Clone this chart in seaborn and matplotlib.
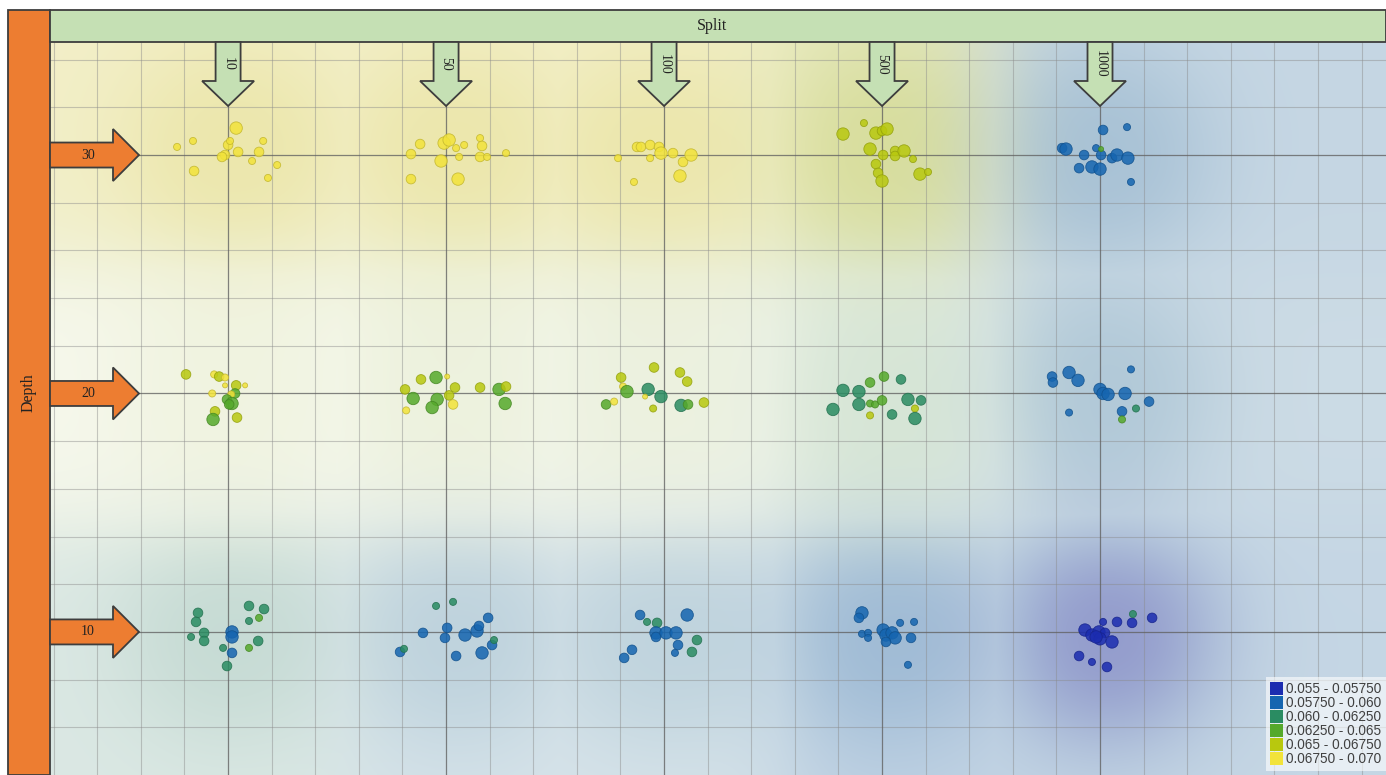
import numpy as np
import pandas as pd
import matplotlib
matplotlib.use("Agg")
import matplotlib.pyplot as plt
from matplotlib.patches import Polygon, Rectangle, Patch
from matplotlib import font_manager
import seaborn as sns

# ---------------------------------------------------------------- data
split_labels = ["10", "50", "100", "500", "1000"]
depth_levels = [30, 20, 10]

bin_labels = ["0.055 - 0.05750", "0.05750 - 0.060", "0.060 - 0.06250",
              "0.06250 - 0.065", "0.065 - 0.06750", "0.06750 - 0.070"]
bin_colors = ["#1b2cb0", "#1565b0", "#2a8c62", "#55a92b", "#b8c80e", "#f2e33a"]

# Runs per (split, depth) cell:
# (split jitter, depth jitter, weight 1-4, value bin 0-5)
runs_s10_d30 = [(-0.234, 0.34, 2, 5), (-0.161, 0.59, 2, 5), (0.037, 1.13, 4, 5),
                (0.000, 0.42, 3, 5), (0.009, 0.59, 2, 5), (-0.014, 0.00, 3, 5),
                (-0.028, -0.08, 3, 5), (0.046, 0.13, 3, 5), (0.142, 0.13, 3, 5),
                (0.161, 0.59, 2, 5), (0.110, -0.25, 2, 5), (0.225, -0.42, 2, 5),
                (-0.156, -0.67, 3, 5), (0.183, -0.96, 2, 5)]
runs_s50_d30 = [(-0.161, 0.04, 3, 5), (-0.119, 0.46, 3, 5), (-0.009, 0.50, 4, 5),
                (0.014, 0.63, 4, 5), (0.046, 0.29, 2, 5), (0.083, 0.42, 2, 5),
                (0.156, 0.71, 2, 5), (0.165, 0.38, 3, 5), (-0.023, -0.25, 4, 5),
                (0.060, -0.08, 2, 5), (0.156, -0.08, 3, 5), (0.188, -0.08, 2, 5),
                (0.275, 0.08, 2, 5), (-0.161, -1.01, 3, 5), (0.055, -1.01, 4, 5)]
runs_s100_d30 = [(-0.211, -0.13, 2, 5), (-0.124, 0.34, 3, 5), (-0.106, 0.34, 3, 5),
                 (-0.064, 0.42, 3, 5), (-0.023, 0.34, 3, 5), (-0.014, 0.08, 4, 5),
                 (-0.064, -0.13, 2, 5), (0.041, 0.08, 3, 5), (0.087, -0.29, 3, 5),
                 (0.124, 0.00, 4, 5), (0.073, -0.88, 4, 5), (-0.138, -1.13, 2, 5)]
runs_s500_d30 = [(-0.179, 0.88, 4, 4), (-0.083, 1.34, 2, 4), (-0.028, 0.92, 4, 4),
                 (0.000, 1.01, 3, 4), (0.023, 1.09, 4, 4), (-0.055, 0.25, 4, 4),
                 (0.005, 0.00, 3, 4), (0.060, 0.17, 3, 4), (0.060, -0.04, 3, 4),
                 (0.101, 0.17, 4, 4), (0.142, -0.17, 2, 4), (-0.028, -0.38, 3, 4),
                 (-0.018, -0.75, 3, 4), (0.000, -1.09, 4, 4), (0.174, -0.80, 4, 4),
                 (0.211, -0.71, 2, 4)]
runs_s1000_d30 = [(-0.174, 0.29, 3, 1), (-0.156, 0.25, 4, 1), (0.014, 1.05, 3, 1),
                  (0.124, 1.17, 2, 1), (-0.073, 0.00, 3, 1), (-0.018, 0.29, 2, 1),
                  (0.005, 0.00, 3, 1), (0.055, -0.13, 3, 1), (0.078, 0.00, 4, 1),
                  (0.128, -0.13, 4, 1), (-0.096, -0.55, 3, 1), (-0.037, -0.50, 4, 1),
                  (0.000, -0.59, 4, 1), (0.142, -1.13, 2, 1), (0.005, 0.25, 1, 3)]

runs_s10_d20 = [(-0.193, 0.80, 3, 4), (-0.064, 0.80, 2, 5), (-0.041, 0.71, 3, 4),
                (-0.014, 0.67, 2, 5), (-0.014, 0.34, 1, 5), (0.037, 0.34, 3, 4),
                (0.078, 0.34, 1, 5), (-0.073, 0.00, 2, 5), (0.032, 0.00, 3, 3),
                (0.014, -0.04, 2, 5), (-0.005, -0.25, 3, 3), (0.018, -0.42, 4, 3),
                (0.005, -0.46, 3, 3), (-0.060, -0.75, 3, 4), (-0.069, -1.09, 4, 3),
                (0.041, -1.01, 3, 4)]
runs_s50_d20 = [(-0.188, 0.17, 3, 4), (-0.115, 0.59, 3, 4), (-0.046, 0.67, 4, 3),
                (0.005, 0.71, 1, 5), (0.041, 0.25, 3, 4), (-0.151, -0.21, 4, 3),
                (-0.041, -0.25, 4, 3), (0.014, -0.08, 3, 4), (0.032, -0.46, 3, 5),
                (-0.064, -0.59, 4, 3), (-0.183, -0.71, 2, 5), (0.156, 0.25, 3, 4),
                (0.243, 0.17, 4, 3), (0.275, 0.29, 3, 4), (0.271, -0.42, 4, 3)]
runs_s100_d20 = [(-0.197, 0.67, 3, 4), (-0.046, 1.09, 3, 4), (0.073, 0.88, 3, 4),
                 (0.106, 0.50, 3, 4), (-0.188, 0.29, 2, 5), (-0.170, 0.08, 4, 3),
                 (-0.073, 0.17, 4, 2), (-0.014, -0.13, 4, 2), (-0.087, -0.13, 1, 5),
                 (-0.266, -0.46, 3, 3), (-0.229, -0.34, 2, 5), (-0.050, -0.63, 2, 4),
                 (0.078, -0.50, 4, 2), (0.110, -0.46, 3, 3), (0.183, -0.38, 3, 4)]
runs_s500_d20 = [(-0.179, 0.13, 4, 2), (-0.106, 0.08, 4, 2), (-0.055, 0.46, 3, 3),
                 (0.009, 0.71, 3, 3), (0.087, 0.59, 3, 2), (-0.106, -0.46, 4, 2),
                 (-0.055, -0.42, 2, 3), (-0.032, -0.46, 2, 3), (0.000, -0.29, 3, 3),
                 (0.119, -0.25, 4, 2), (0.179, -0.29, 3, 2), (0.151, -0.63, 2, 4),
                 (-0.225, -0.67, 4, 2), (-0.055, -0.92, 2, 4), (0.046, -0.88, 3, 2),
                 (0.151, -1.05, 4, 2)]
runs_s1000_d20 = [(-0.220, 0.71, 3, 1), (-0.216, 0.46, 3, 1), (-0.142, 0.88, 4, 1),
                  (-0.101, 0.55, 4, 1), (0.142, 1.01, 2, 1), (0.000, 0.17, 4, 1),
                  (0.014, 0.00, 4, 1), (0.037, -0.04, 4, 1), (0.115, 0.00, 4, 1),
                  (0.225, -0.34, 3, 1), (-0.142, -0.80, 2, 1), (0.101, -0.75, 3, 1),
                  (0.101, -1.09, 2, 3), (0.165, -0.63, 2, 2)]

runs_s10_d10 = [(-0.138, 0.80, 3, 2), (-0.147, 0.42, 3, 2), (0.096, 1.09, 3, 2),
                (0.165, 0.96, 3, 2), (0.142, 0.59, 2, 3), (0.096, 0.46, 2, 2),
                (-0.110, -0.04, 3, 2), (-0.110, -0.38, 3, 2), (-0.170, -0.21, 2, 2),
                (0.018, 0.00, 4, 1), (0.018, -0.21, 4, 1), (0.138, -0.38, 3, 2),
                (-0.023, -0.67, 2, 2), (0.018, -0.88, 3, 1), (0.096, -0.67, 2, 3),
                (-0.005, -1.43, 3, 2)]
runs_s50_d10 = [(-0.046, 1.09, 2, 2), (0.032, 1.26, 2, 2), (-0.106, -0.04, 3, 1),
                (0.005, 0.17, 3, 1), (-0.005, -0.25, 3, 1), (0.087, -0.13, 4, 1),
                (0.142, 0.04, 4, 1), (0.151, 0.25, 3, 1), (0.193, 0.59, 3, 1),
                (-0.211, -0.84, 3, 1), (-0.193, -0.71, 2, 2), (0.046, -1.01, 3, 1),
                (0.165, -0.88, 4, 1), (0.211, -0.55, 3, 1), (0.220, -0.34, 2, 2)]
runs_s100_d10 = [(-0.110, 0.71, 3, 1), (-0.078, 0.42, 2, 2), (-0.032, 0.38, 3, 2),
                 (0.106, 0.71, 4, 1), (-0.037, -0.04, 4, 1), (-0.037, -0.21, 3, 1),
                 (0.009, -0.04, 4, 1), (0.055, -0.04, 4, 1), (0.064, -0.55, 3, 1),
                 (0.151, -0.34, 3, 2), (0.128, -0.84, 3, 2), (0.050, -0.88, 2, 1),
                 (-0.147, -0.75, 3, 1), (-0.183, -1.09, 3, 1)]
runs_s500_d10 = [(-0.092, 0.80, 4, 1), (-0.106, 0.59, 3, 1), (-0.092, -0.08, 2, 1),
                 (-0.064, -0.04, 2, 1), (-0.064, -0.25, 2, 1), (0.005, 0.08, 4, 1),
                 (0.018, -0.13, 4, 1), (0.046, -0.04, 4, 1), (0.060, -0.25, 4, 1),
                 (0.083, 0.38, 2, 1), (0.147, 0.42, 2, 1), (0.133, -0.25, 3, 1),
                 (0.119, -1.38, 2, 1), (0.018, -0.42, 3, 1)]
runs_s1000_d10 = [(-0.069, 0.08, 4, 0), (-0.037, -0.13, 4, 0), (-0.005, 0.00, 4, 0),
                  (0.023, -0.04, 3, 0), (0.000, -0.29, 4, 0), (0.055, -0.42, 4, 0),
                  (0.014, 0.42, 2, 0), (0.078, 0.42, 3, 0), (0.147, 0.38, 3, 0),
                  (0.239, 0.59, 3, 0), (-0.096, -1.01, 3, 0), (-0.037, -1.26, 2, 0),
                  (0.032, -1.47, 3, 0), (-0.018, -0.21, 4, 0), (0.151, 0.75, 2, 2)]

cells = [
    ("10", 30, runs_s10_d30), ("50", 30, runs_s50_d30), ("100", 30, runs_s100_d30),
    ("500", 30, runs_s500_d30), ("1000", 30, runs_s1000_d30),
    ("10", 20, runs_s10_d20), ("50", 20, runs_s50_d20), ("100", 20, runs_s100_d20),
    ("500", 20, runs_s500_d20), ("1000", 20, runs_s1000_d20),
    ("10", 10, runs_s10_d10), ("50", 10, runs_s50_d10), ("100", 10, runs_s100_d10),
    ("500", 10, runs_s500_d10), ("1000", 10, runs_s1000_d10),
]

rows = []
for split, depth, runs in cells:
    base = split_labels.index(split)
    for jx, jd, wgt, b in runs:
        rows.append({"split": split, "level": depth, "pos": base + jx,
                     "depth": depth + jd, "weight": wgt, "bin": b})
df = pd.DataFrame(rows)
df["range"] = [bin_labels[b] for b in df["bin"]]

# ---------------------------------------------------------------- style
sns.set_style("white")
plt.rcParams["font.family"] = ["Liberation Serif", "DejaVu Serif"]

W, H = 1386, 775
fig = plt.figure(figsize=(W / 100, H / 100), dpi=100)
fig.patch.set_facecolor("white")

ax = fig.add_axes([50 / W, 0, (W - 50) / W, (H - 42) / H])
x_left, x_right = -0.817, 5.312
d_bottom, d_top = 4.0, 34.74
ax.set_xlim(x_left, x_right)
ax.set_ylim(d_bottom, d_top)

# ---------------------------------------------------------------- smooth background field
rgb = np.array([matplotlib.colors.to_rgb(c) for c in bin_colors])
shade = rgb * 0.86                       # slightly muted tints for the surface
regional_bins = np.clip(np.arange(len(bin_colors)), 1, None)

px_x = (W - 50) / (x_right - x_left)
px_d = (H - 42) / (d_top - d_bottom)
gx, gd = np.meshgrid(np.linspace(x_left, x_right, 700),
                     np.linspace(d_bottom, d_top, 380))
num = np.zeros(gx.shape + (3,))
den = np.zeros(gx.shape)
sden = np.zeros(gx.shape)
gsum = np.zeros(gx.shape)
gmax = np.zeros(gx.shape)
gcol = np.zeros(gx.shape + (3,))
gboost = np.zeros(gx.shape)
for (split, level), sub in df.groupby(["split", "level"], sort=False):
    bins = sub["bin"].to_numpy()
    own_col = shade[bins].mean(axis=0)
    reg_col = shade[regional_bins[bins]].mean(axis=0)
    counts = np.bincount(bins, minlength=len(bin_colors))
    strength = counts.max() / counts.sum()
    low_share = counts[0] / counts.sum()
    cx, cd = sub["pos"].mean(), sub["depth"].mean()
    r2 = ((gx - cx) * px_x) ** 2 + ((gd - cd) * px_d) ** 2
    w = np.exp(-r2 / (2 * 80.0 ** 2))
    num += w[..., None] * reg_col
    den += w
    sden += w * strength
    g = np.exp(-(r2 / (2 * 84.0 ** 2)) ** 1.3)
    gsum += g
    gmax = np.maximum(gmax, g)
    gcol += g[..., None] * own_col
    gboost += g * (0.13 * strength + 0.10 * low_share)

col = num / den[..., None]
s = sden / den
a_base = 0.03 + 0.24 * s ** 1.5
loc_col = gcol / np.maximum(gsum, 1e-12)[..., None]
boost = gboost / np.maximum(gsum, 1e-12)
t = gmax
C = col * (1 - t[..., None]) + loc_col * t[..., None]
A = a_base + boost * t
img = 1.0 - A[..., None] * (1.0 - C)
ax.imshow(np.clip(img, 0, 1), extent=[x_left, x_right, d_bottom, d_top], origin="lower",
          aspect="auto", interpolation="bilinear", zorder=0)

# ---------------------------------------------------------------- grid
for xv in np.arange(-0.8, 5.31, 0.2):
    ax.axvline(xv, color="#8a8a8a", lw=0.8, alpha=0.45, zorder=1)
for dv in np.arange(6, 35, 2):
    ax.axhline(dv, color="#8a8a8a", lw=0.8, alpha=0.45, zorder=1)
for i in range(len(split_labels)):
    ax.axvline(i, color="#555555", lw=0.9, alpha=0.6, zorder=1)
for d in depth_levels:
    ax.axhline(d, color="#555555", lw=0.9, alpha=0.6, zorder=1)

ax.set_xticks([])
ax.set_yticks([])
for sp in ax.spines.values():
    sp.set_visible(False)

# ---------------------------------------------------------------- points
palette = dict(zip(bin_labels, bin_colors))
sizes = {1: 13, 2: 26, 3: 48, 4: 80}
sns.scatterplot(data=df, x="pos", y="depth", hue="range", size="weight",
                palette=palette, sizes=sizes, hue_order=bin_labels,
                alpha=0.85, linewidth=0.6, legend=False, ax=ax, zorder=3)
coll = ax.collections[-1]
fc = coll.get_facecolors()
ec = fc.copy()
ec[:, :3] = ec[:, :3] * 0.8
ec[:, 3] = 0.9
coll.set_edgecolors(ec)
ax.set_xlabel("")
ax.set_ylabel("")

# ---------------------------------------------------------------- legend
def legend_font():
    for fam in ["Liberation Sans Narrow", "Liberation Sans"]:
        try:
            font_manager.findfont(font_manager.FontProperties(family=fam),
                                  fallback_to_default=False)
            return fam
        except Exception:
            continue
    return "DejaVu Sans"

handles = [Patch(facecolor=c, edgecolor="none") for c in bin_colors]
leg = ax.legend(handles, bin_labels, loc="lower right", bbox_to_anchor=(1.0, 0.006),
                borderaxespad=0.0, frameon=True, fancybox=False,
                handlelength=0.9, handleheight=1.05, labelspacing=0.0,
                handletextpad=0.25, borderpad=0.35,
                prop={"family": legend_font(), "size": 9.8})
leg.get_frame().set_facecolor("white")
leg.get_frame().set_alpha(0.6)
leg.get_frame().set_edgecolor("none")
for t_ in leg.get_texts():
    t_.set_color("#404040")
leg.set_zorder(6)

# ---------------------------------------------------------------- header bars and arrows
fig.canvas.draw()
ov = fig.add_axes([0, 0, 1, 1])
ov.set_xlim(0, W)
ov.set_ylim(H, 0)
ov.axis("off")
ov.patch.set_alpha(0)

orange = "#ed7d31"
green = "#c5e0b4"
edge = "#3d3d3d"

def to_px(x, d):
    px, py = ax.transData.transform((x, d))
    return px, H - py

ov.add_patch(Rectangle((8, 10), 42, H - 10, facecolor=orange, edgecolor=edge, lw=1.3, zorder=4))
ov.add_patch(Rectangle((50, 10), W - 50, 32, facecolor=green, edgecolor=edge, lw=1.3, zorder=4))
ov.text((50 + W) / 2 - 6, 26, "Split", ha="center", va="center", fontsize=11.5, color="#222222", zorder=5)
ov.text(29, (10 + H) / 2, "Depth", ha="center", va="center", rotation=90, fontsize=11.5,
        color="#222222", zorder=5)

for i, lab in enumerate(split_labels):
    cx, _ = to_px(i, d_top)
    poly = [(cx - 12.5, 42), (cx + 12.5, 42), (cx + 12.5, 81), (cx + 26, 81),
            (cx, 106), (cx - 26, 81), (cx - 12.5, 81)]
    ov.add_patch(Polygon(poly, closed=True, facecolor=green, edgecolor=edge, lw=1.3, zorder=4))
    ov.text(cx, 64, lab, ha="center", va="center", rotation=-90, fontsize=10,
            color="#222222", zorder=5)

for d in depth_levels:
    _, cy = to_px(0, d)
    poly = [(50, cy - 12.5), (113, cy - 12.5), (113, cy - 26), (139, cy),
            (113, cy + 26), (113, cy + 12.5), (50, cy + 12.5)]
    ov.add_patch(Polygon(poly, closed=True, facecolor=orange, edgecolor=edge, lw=1.3, zorder=4))
    ov.text(88, cy, str(d), ha="center", va="center", fontsize=10, color="#222222", zorder=5)

fig.savefig("out.png", dpi=100, facecolor="white")
